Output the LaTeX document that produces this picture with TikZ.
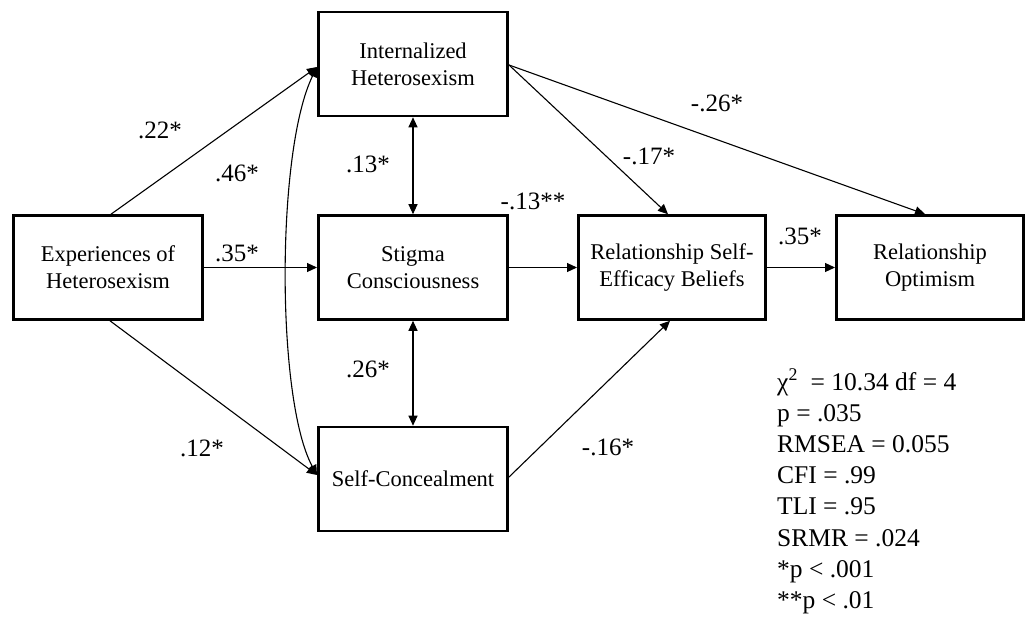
\documentclass[tikz,border=0pt]{standalone}
\usepackage{fontspec}
\setmainfont{Liberation Serif}
\usetikzlibrary{arrows.meta}
\begin{document}
\begin{tikzpicture}[x=1pt,y=-1pt,
  var/.style={draw,line width=2.6pt,minimum width=189.4pt,minimum height=104pt,
    align=center,inner sep=0pt,font=\fontsize{22.5}{27}\selectfont},
  tip/.tip={Triangle[length=10pt,width=9pt]},
  effect/.style={line width=1.1pt,-tip},
  assoc/.style={line width=1.1pt,tip-tip},
  coef/.style={inner sep=0pt,font=\fontsize{25}{29}\selectfont},
  stat/.style={inner sep=0pt,anchor=base west,font=\fontsize{25.5}{29}\selectfont}]
\useasboundingbox (0,0) rectangle (1028,618);

% variables
\node[var] (int)  at (413,64)    {Internalized\\Heterosexism};
\node[var] (exp)  at (108,267.5) {Experiences of\\Heterosexism};
\node[var] (stig) at (413,267.5) {Stigma\\Consciousness};
\node[var] (sc)   at (413,479)   {Self-Concealment};
\node[var,minimum width=187.4pt] (rseb) at (672,267.5) {Relationship Self-\\Efficacy Beliefs};
\node[var,minimum width=187.4pt] (opt)  at (930,267.5) {Relationship\\Optimism};

% paths
\draw[effect] ([xshift=3pt]exp.north) -- ([yshift=-3pt]int.west);
\draw[effect] (exp.east) -- (stig.west);
\draw[effect] ([xshift=2pt]exp.south) -- ([yshift=4pt]sc.west);
\draw[assoc] ([yshift=-3pt]int.west) .. controls (276,150) and (276,400) .. ([yshift=4pt]sc.west);
\draw[assoc] (int.south) -- (stig.north);
\draw[assoc] (stig.south) -- (sc.north);
\draw[effect] (stig.east) -- (rseb.west);
\draw[effect] ([yshift=-1pt]int.east) -- ([xshift=-4pt]rseb.north);
\draw[effect] ([yshift=-1pt]int.east) -- ([xshift=-5pt]opt.north);
\draw[effect] (rseb.east) -- (opt.west);
\draw[effect] ([yshift=2pt]sc.east) -- ([xshift=-2pt]rseb.south);

% coefficients
\node[coef] (c1)  at (160,130) {.22*};
\node[coef] (c2)  at (237,173) {.46*};
\node[coef] (c3)  at (237,253) {.35*};
\node[coef] (c4)  at (202,448) {.12*};
\node[coef] (c5)  at (368,164) {.13*};
\node[coef] (c6)  at (368,369) {.26*};
\node[coef] (c7)  at (533,201) {-.13**};
\node[coef] (c8)  at (649,156) {-.17*};
\node[coef] (c9)  at (717,103) {-.26*};
\node[coef] (c10) at (800,236) {.35*};
\node[coef] (c11) at (608,447) {-.16*};

% fit statistics
\node[stat] (s1) at (777,390) {χ\textsuperscript{2}\ \ = 10.34 df = 4};
\node[stat] (s2) at (777,421) {p = .035};
\node[stat] (s3) at (777,452) {RMSEA = 0.055};
\node[stat] (s4) at (777,483) {CFI = .99};
\node[stat] (s5) at (777,514) {TLI = .95};
\node[stat] (s6) at (777,546) {SRMR = .024};
\node[stat] (s7) at (777,577) {*p {\textless} .001};
\node[stat] (s8) at (777,608) {**p {\textless} .01};
\end{tikzpicture}
\end{document}
